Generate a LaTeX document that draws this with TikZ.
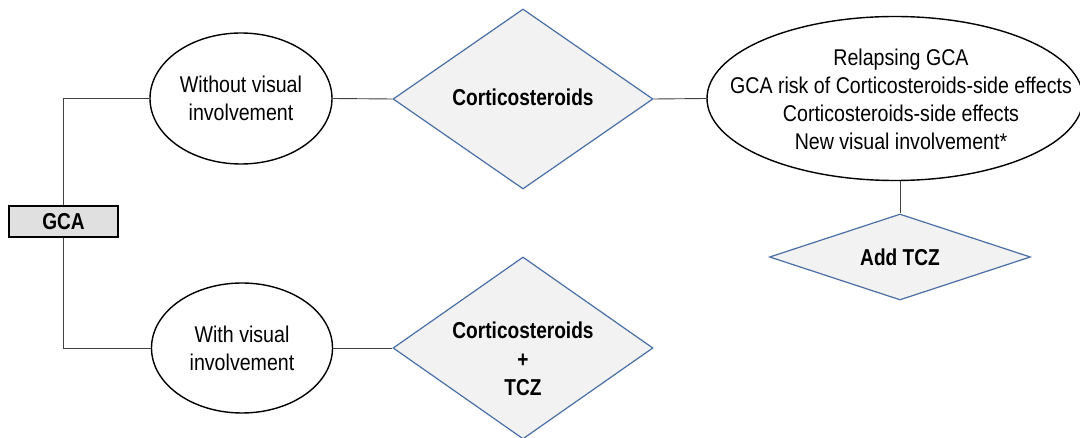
\documentclass[tikz,border=0pt]{standalone}
\usepackage{fontspec}
\setmainfont{Liberation Sans}
\newfontfamily\rfont{Liberation Sans}[FakeStretch=0.86]
\newfontfamily\bfont{Liberation Sans}[FakeStretch=0.83]
\usetikzlibrary{shapes.geometric}
\definecolor{dblue}{HTML}{4A6FA5}
\definecolor{dfill}{HTML}{F2F2F2}
\definecolor{lgray}{HTML}{404040}
\definecolor{boxfill}{HTML}{E0E0E0}
\begin{document}
\begin{tikzpicture}[x=1pt,y=-1pt,
  txt/.style={font=\rfont\fontsize{22.8}{28.2}\selectfont, align=center, inner sep=0pt},
  btxt/.style={font=\bfont\bfseries\fontsize{23}{28.5}\selectfont, align=center, inner sep=0pt},
  oval/.style={ellipse, draw=black, line width=1.4pt, fill=white, inner sep=0pt},
  dia/.style={diamond, draw=dblue, line width=1.2pt, fill=dfill, inner sep=0pt, minimum width=260pt},
  conn/.style={draw=lgray, line width=0.9pt}]
\useasboundingbox (0,0) rectangle (1080,438);
\fill[white] (0,0) rectangle (1080,438);
\node[draw=black, line width=2.2pt, fill=boxfill, minimum width=109pt, minimum height=31pt, inner sep=0pt,
      font=\bfont\bfseries\fontsize{23}{26}\selectfont] (gca) at (63.5,221.5) {GCA};
\node[oval, minimum width=182pt, minimum height=131pt,
      label={[txt]center:Without visual\\involvement}] (e1) at (241,98.5) {};
\node[oval, minimum width=181pt, minimum height=130pt,
      label={[txt]center:With visual\\involvement}] (e3) at (242,348) {};
\node[dia, minimum height=180pt, label={[btxt,yshift=2pt]center:Corticosteroids}] (d1) at (523,99) {};
\node[dia, minimum height=182pt, label={[btxt,yshift=-11pt]center:Corticosteroids\\+\\TCZ}] (d3) at (523,348) {};
\node[oval, minimum width=376pt, minimum height=164pt,
      label={[txt,yshift=-1pt,xshift=6pt]center:Relapsing GCA\\GCA risk of Corticosteroids-side effects\\Corticosteroids-side effects\\New visual involvement*}] (e2) at (895,98.5) {};
\node[dia, minimum width=261pt, minimum height=86pt, label={[btxt]center:Add TCZ}] (d2) at (900,257) {};
\draw[conn] (gca.north) |- (e1.west);
\draw[conn] (gca.south) |- (e3.west);
\draw[conn] (e1.east) -- (d1.west);
\draw[conn] (e3.east) -- (d3.west);
\draw[conn] (d1.east) -- (e2.west);
\draw[conn] (e2.south -| d2.north) -- (d2.north);
\end{tikzpicture}
\end{document}
